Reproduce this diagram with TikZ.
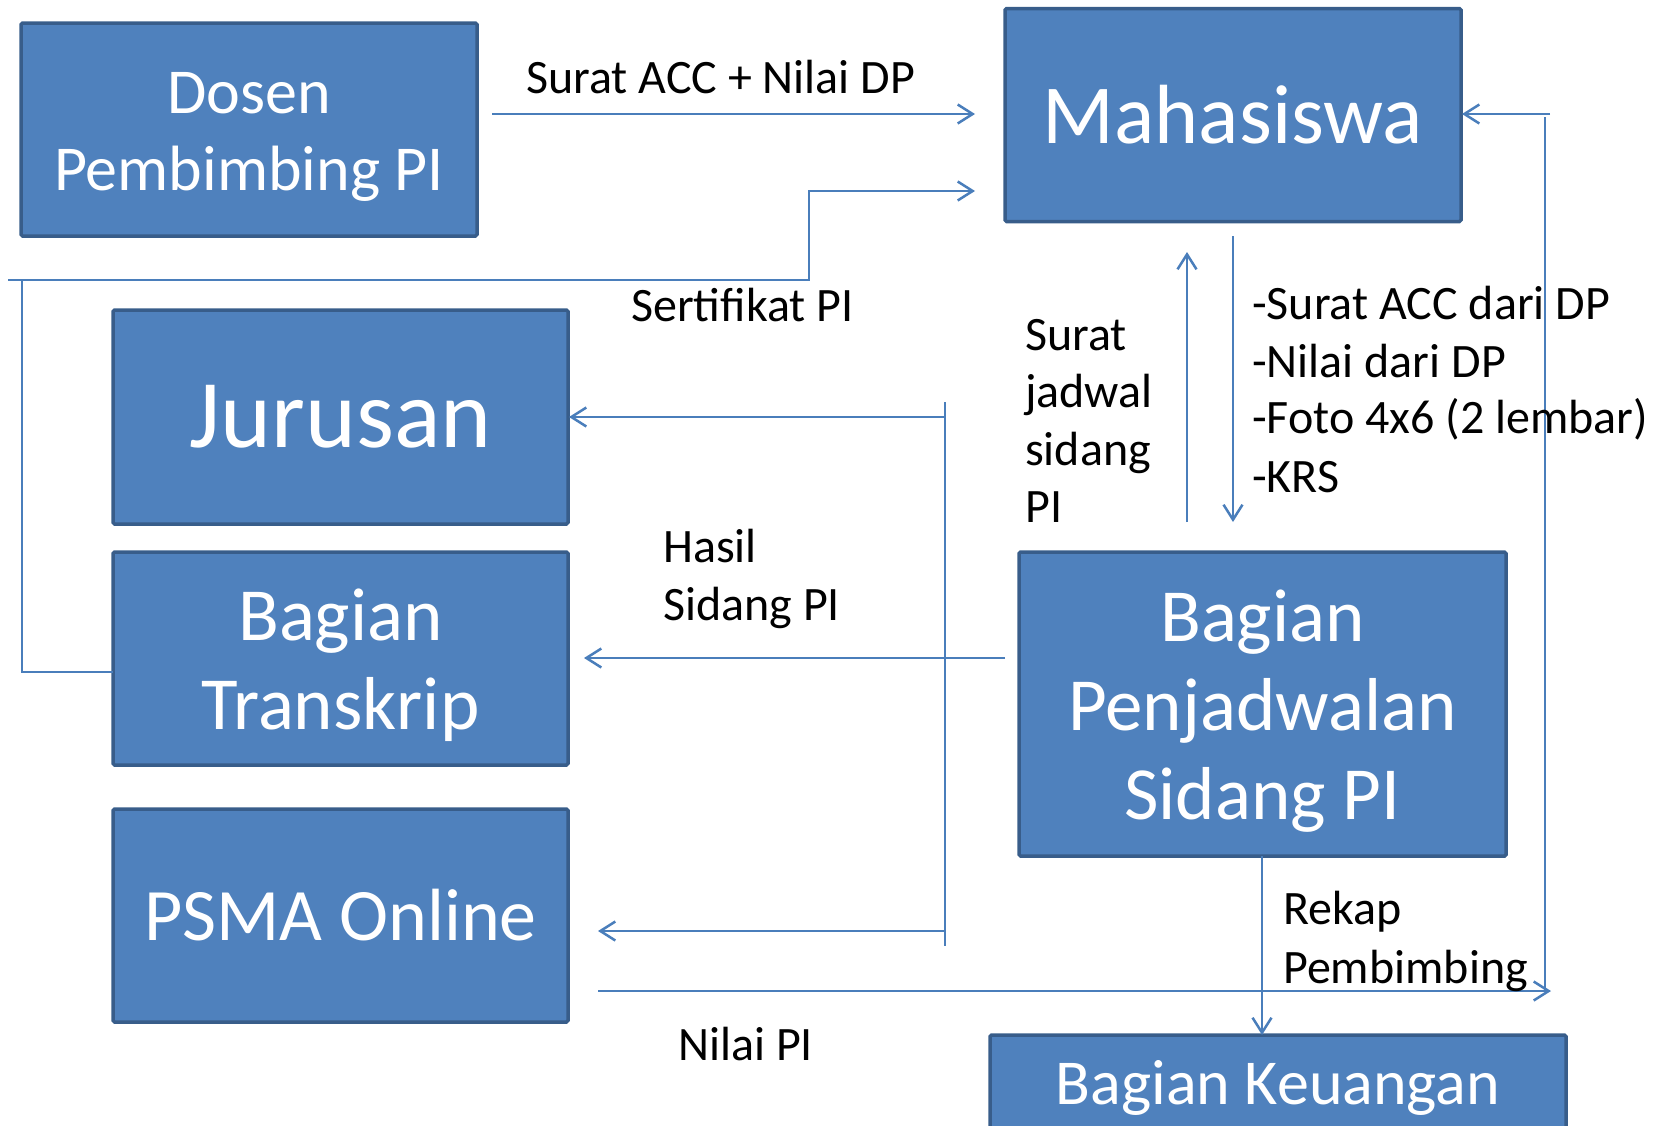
\documentclass[tikz,border=0pt]{standalone}
\usepackage{fontspec}
\setmainfont{Carlito}
\usetikzlibrary{arrows.meta}
\definecolor{boxfill}{HTML}{4F81BD}
\definecolor{boxline}{HTML}{385D8A}
\definecolor{arrline}{HTML}{4A7EBB}
\begin{document}
\begin{tikzpicture}[x=1pt,y=-1pt,
  blk/.style={draw=boxline, fill=boxfill, line width=3.5pt, rounded corners=1.5pt, inner sep=0pt},
  btxt/.style={text=white, align=center, inner sep=0pt},
  conn/.style={draw=arrline, line width=2.5pt},
  arr/.style={conn, -{Straight Barb[length=15pt,width=19pt,line width=2.5pt]}},
  lbl/.style={anchor=base west, inner sep=0pt, font=\fontsize{48}{57}\selectfont}]
\useasboundingbox (0,0) rectangle (1665,1125);

% boxes
\node[blk, minimum width=456pt, minimum height=213pt] (dosen) at (249,129.5) {};
\node[blk, minimum width=456pt, minimum height=213pt] (mhs) at (1233,115) {};
\node[blk, minimum width=455pt, minimum height=214pt] (jur) at (340.5,417) {};
\node[blk, minimum width=455pt, minimum height=213pt] (trans) at (340.5,658.5) {};
\node[blk, minimum width=455pt, minimum height=213pt] (psma) at (340.5,915.5) {};
\node[blk, minimum width=487pt, minimum height=304pt] (jadwal) at (1262.5,704) {};
\node[blk, minimum width=576pt, minimum height=116pt] (keu) at (1278,1093) {};

% box texts
\node[btxt, font=\fontsize{64}{77}\selectfont] (dosent) at ([yshift=-7pt]dosen.center) {Dosen\\Pembimbing PI};
\node[btxt, font=\fontsize{84}{100}\selectfont] (mhst) at (mhs.center) {Mahasiswa};
\node[btxt, font=\fontsize{97}{110}\selectfont] (jurt) at (jur.center) {Jurusan};
\node[btxt, font=\fontsize{75}{89}\selectfont] (transt) at ([yshift=-7pt]trans.center) {Bagian\\Transkrip};
\node[btxt, font=\fontsize{74}{88}\selectfont] (psmat) at (psma.center) {PSMA Online};
\node[btxt, font=\fontsize{75}{89}\selectfont] (jadwalt) at ([yshift=-7pt]jadwal.center) {Bagian\\Penjadwalan\\Sidang PI};
\node[btxt, font=\fontsize{64}{78}\selectfont] (keut) at ([yshift=5pt]keu.center) {Bagian Keuangan};

% coordinates
\coordinate (a1s) at (492,114);  \coordinate (a1e) at (975,114);
\coordinate (s0) at (8,280);     \coordinate (s1) at (809,280);
\coordinate (s2) at (809,191);   \coordinate (s3) at (975,191);
\coordinate (t0) at (113,672);   \coordinate (t1) at (22,672);   \coordinate (t2) at (22,280);
\coordinate (n0) at (598,991);   \coordinate (n1) at (1551,991);
\coordinate (r0) at (1545,991);  \coordinate (r1) at (1545,117);
\coordinate (r2) at (1550,114);  \coordinate (r3) at (1462,114);
\coordinate (d0) at (1233,236);  \coordinate (d1) at (1233,522);
\coordinate (u0) at (1187,522);  \coordinate (u1) at (1187,252);
\coordinate (v0) at (945,402);   \coordinate (v1) at (945,946);
\coordinate (j0) at (945,417);   \coordinate (j1) at (569,417);
\coordinate (h0) at (1005,658);  \coordinate (h1) at (584,658);
\coordinate (p0) at (945,931);   \coordinate (p1) at (598,931);
\coordinate (k0) at (1262,856);  \coordinate (k1) at (1262,1035);

% connectors
\draw[arr] (a1s) -- (a1e);
\draw[arr] (s0) -- (s1) -- (s2) -- (s3);
\draw[conn] (t0) -- (t1) -- (t2);
\draw[arr] (n0) -- (n1);
\draw[conn] (r0) -- (r1);
\draw[arr] (r2) -- (r3);
\draw[arr] (d0) -- (d1);
\draw[arr] (u0) -- (u1);
\draw[conn] (v0) -- (v1);
\draw[arr] (j0) -- (j1);
\draw[arr] (h0) -- (h1);
\draw[arr] (p0) -- (p1);
\draw[arr] (k0) -- (k1);

% labels
\node[lbl] (l1) at (526,93) {Surat ACC + Nilai DP};
\node[lbl] (l2) at (631,321) {Sertifikat PI};
\node[lbl] (sj1) at (1025,350) {Surat};
\node[lbl] (sj2) at (1025,407) {jadwal};
\node[lbl] (sj3) at (1025,465) {sidang};
\node[lbl] (sj4) at (1025,522) {PI};
\node[lbl] (dl1) at (1252,319) {-Surat ACC dari DP};
\node[lbl] (dl2) at (1252,377) {-Nilai dari DP};
\node[lbl] (dl3) at (1252,433) {-Foto 4x6 (2 lembar)};
\node[lbl] (dl4) at (1252,492) {-KRS};
\node[lbl] (hs1) at (663,562) {Hasil};
\node[lbl] (hs2) at (663,620) {Sidang PI};
\node[lbl] (rk1) at (1283,924) {Rekap};
\node[lbl] (rk2) at (1283,983) {Pembimbing};
\node[lbl] (np) at (678,1060) {Nilai PI};
\end{tikzpicture}
\end{document}
